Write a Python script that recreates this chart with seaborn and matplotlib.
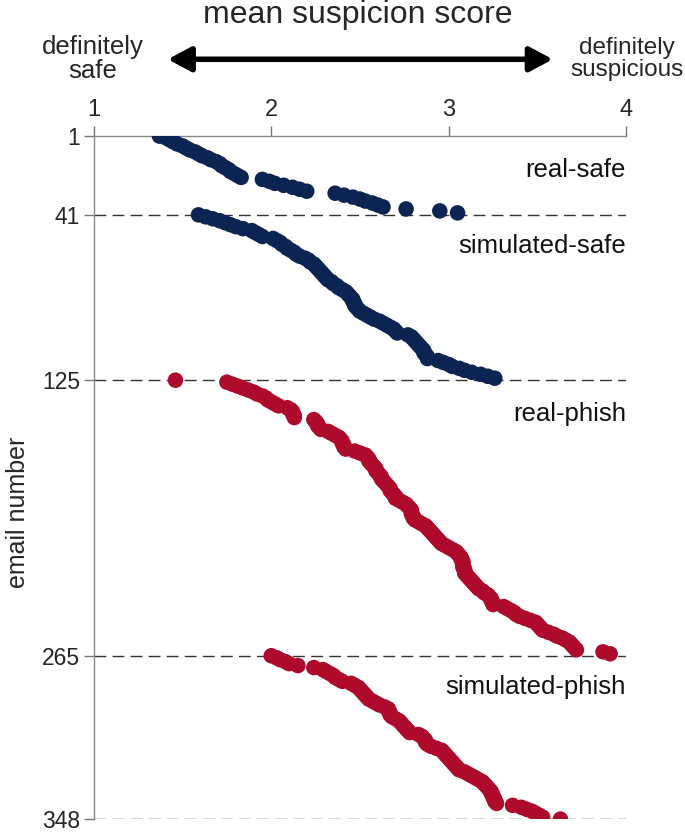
import numpy as np
import pandas as pd
import seaborn as sns
import matplotlib.pyplot as plt

# mean suspicion score per email, sorted within each group
real_safe = [1.37, 1.41, 1.43, 1.45, 1.47, 1.50, 1.52, 1.54, 1.57, 1.59,
             1.61, 1.64, 1.66, 1.69, 1.71, 1.72, 1.74, 1.76, 1.77, 1.79,
             1.81, 1.83, 1.95, 1.99, 2.02, 2.07, 2.12, 2.16, 2.20, 2.36,
             2.41, 2.46, 2.50, 2.53, 2.57, 2.60, 2.63, 2.76, 2.95, 3.05]
simulated_safe = [1.59, 1.63, 1.67, 1.71, 1.74, 1.77, 1.80, 1.84, 1.89, 1.91,
                  1.93, 1.95, 2.01, 2.03, 2.05, 2.06, 2.08, 2.09, 2.11, 2.13,
                  2.14, 2.16, 2.19, 2.21, 2.22, 2.24, 2.25, 2.26, 2.27, 2.28,
                  2.29, 2.30, 2.31, 2.32, 2.34, 2.35, 2.37, 2.38, 2.40, 2.42,
                  2.43, 2.44, 2.45, 2.46, 2.46, 2.47, 2.47, 2.48, 2.49, 2.50,
                  2.52, 2.54, 2.56, 2.58, 2.61, 2.63, 2.65, 2.67, 2.69, 2.70,
                  2.71, 2.77, 2.79, 2.80, 2.81, 2.82, 2.83, 2.84, 2.85, 2.86,
                  2.86, 2.87, 2.88, 2.88, 2.94, 2.97, 3.00, 3.02, 3.06, 3.09,
                  3.13, 3.18, 3.22, 3.26]
real_phish = [1.46, 1.75, 1.78, 1.81, 1.84, 1.87, 1.90, 1.92, 1.95, 1.97,
              1.98, 2.00, 2.02, 2.04, 2.09, 2.11, 2.12, 2.12, 2.13, 2.13,
              2.24, 2.25, 2.26, 2.26, 2.27, 2.28, 2.32, 2.34, 2.36, 2.38,
              2.39, 2.40, 2.40, 2.41, 2.41, 2.42, 2.47, 2.50, 2.53, 2.54,
              2.55, 2.55, 2.56, 2.57, 2.58, 2.59, 2.59, 2.60, 2.61, 2.62,
              2.62, 2.63, 2.64, 2.65, 2.66, 2.67, 2.67, 2.68, 2.69, 2.70,
              2.70, 2.72, 2.74, 2.76, 2.77, 2.78, 2.79, 2.79, 2.79, 2.80,
              2.80, 2.81, 2.83, 2.85, 2.87, 2.88, 2.89, 2.90, 2.91, 2.92,
              2.93, 2.94, 2.95, 2.96, 2.98, 3.00, 3.02, 3.04, 3.05, 3.06,
              3.07, 3.07, 3.08, 3.08, 3.08, 3.08, 3.09, 3.09, 3.09, 3.10,
              3.11, 3.12, 3.13, 3.14, 3.15, 3.16, 3.17, 3.19, 3.20, 3.22,
              3.23, 3.24, 3.24, 3.25, 3.25, 3.31, 3.33, 3.35, 3.37, 3.38,
              3.40, 3.43, 3.46, 3.49, 3.50, 3.51, 3.52, 3.53, 3.56, 3.59,
              3.61, 3.64, 3.66, 3.68, 3.69, 3.70, 3.71, 3.72, 3.87, 3.91]
simulated_phish = [2.00, 2.03, 2.05, 2.08, 2.10, 2.15, 2.24, 2.29, 2.31, 2.33,
                   2.35, 2.36, 2.38, 2.40, 2.45, 2.47, 2.49, 2.50, 2.51, 2.52,
                   2.53, 2.54, 2.55, 2.57, 2.59, 2.61, 2.64, 2.66, 2.66, 2.67,
                   2.67, 2.68, 2.70, 2.72, 2.73, 2.74, 2.75, 2.76, 2.77, 2.78,
                   2.83, 2.85, 2.86, 2.87, 2.87, 2.88, 2.90, 2.93, 2.96, 2.97,
                   2.98, 2.99, 3.00, 3.01, 3.02, 3.03, 3.04, 3.05, 3.06, 3.09,
                   3.11, 3.13, 3.15, 3.17, 3.19, 3.20, 3.21, 3.22, 3.23, 3.24,
                   3.24, 3.25, 3.25, 3.26, 3.26, 3.27, 3.36, 3.41, 3.44, 3.47,
                   3.49, 3.51, 3.53, 3.63]

groups = ['real-safe', 'simulated-safe', 'real-phish', 'simulated-phish']
group_scores = [real_safe, simulated_safe, real_phish, simulated_phish]
group_kind = ['safe', 'safe', 'phish', 'phish']
group_label_y = [18, 57, 142, 281]

y_ticks = [1, 41, 125, 265, 348]
x_ticks = [1, 2, 3, 4]

navy = '#0c2452'
red = '#ae0a2c'

rows = []
n = 1
for g, scores, kind in zip(groups, group_scores, group_kind):
    for s in scores:
        rows.append({'email': n, 'score': s, 'group': g, 'kind': kind})
        n += 1
df = pd.DataFrame(rows)

sns.set_style('white')
plt.rcParams['font.family'] = ['Liberation Sans', 'DejaVu Sans']

fig = plt.figure(figsize=(6.85, 8.35), dpi=100)
ax = fig.add_axes([0.137, 0.019, 0.777, 0.818])

# dashed separators between groups
for yv in y_ticks[1:]:
    ax.plot([1, 4], [yv, yv], ls=(0, (8.5, 4.5)), color='#333333', lw=1, zorder=1)

sns.scatterplot(data=df, x='score', y='email', hue='kind',
                palette={'safe': navy, 'phish': red},
                s=125, linewidth=0, legend=False, ax=ax, zorder=3)

for g, yv in zip(groups, group_label_y):
    ax.text(4.0, yv, g, ha='right', va='center', fontsize=18.5, color='#111111')

ax.set_xlim(1, 4)
ax.set_ylim(348, 1)
ax.set_xticks(x_ticks)
ax.set_yticks(y_ticks)
ax.xaxis.tick_top()
ax.tick_params(axis='x', direction='out', length=7, width=1, color='#777777',
               labelsize=17, pad=4, top=True, bottom=False)
ax.tick_params(axis='y', direction='out', length=7, width=1, color='#777777',
               labelsize=16.5, pad=3, left=True)
ax.set_xlabel('')
ax.set_ylabel('')
for side in ['right', 'bottom']:
    ax.spines[side].set_visible(False)
for side in ['left', 'top']:
    ax.spines[side].set_color('#888888')
    ax.spines[side].set_linewidth(1)

fig.text(0.027, 0.387, 'email number', rotation=90, ha='center', va='center',
         fontsize=18)
fig.text(0.522, 0.982, 'mean suspicion score', ha='center', va='center',
         fontsize=23)
fig.text(0.135, 0.929, 'definitely\nsafe', ha='center', va='center',
         fontsize=18.5, linespacing=1.0)
fig.text(0.915, 0.929, 'definitely\nsuspicious', ha='center', va='center',
         fontsize=17.5, linespacing=1.0)
ax.annotate('', xy=(0.807, 0.929), xytext=(0.245, 0.929),
            xycoords='figure fraction', textcoords='figure fraction',
            arrowprops=dict(arrowstyle='<|-|>,head_length=1.4,head_width=0.75',
                            lw=4, color='black', shrinkA=0, shrinkB=0))

fig.savefig('out.png', dpi=100)
